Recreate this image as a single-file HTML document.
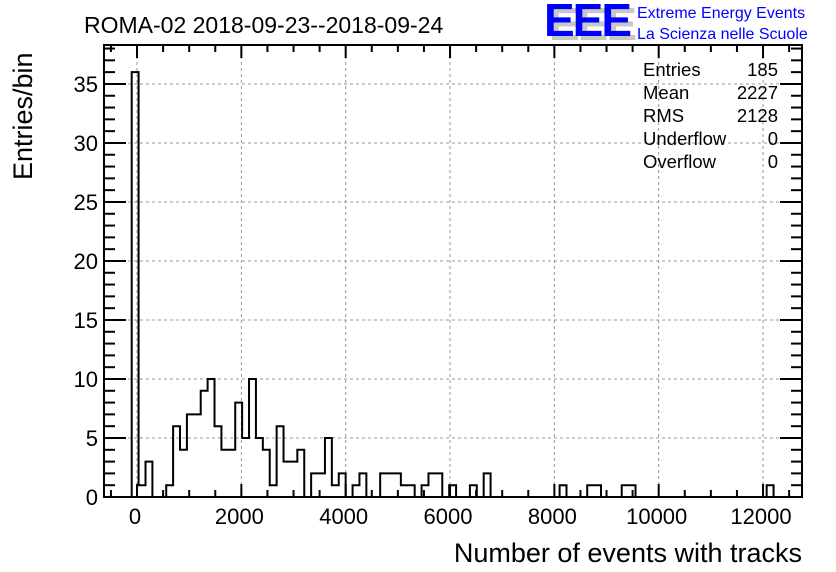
<!DOCTYPE html>
<html><head><meta charset="utf-8"><style>
body{margin:0;background:#fff;}
svg{display:block;font-family:"Liberation Sans",sans-serif;}
</style></head><body>
<svg id="chart" width="836" height="572" viewBox="0 0 836 572" xmlns="http://www.w3.org/2000/svg">
<rect x="0" y="0" width="836" height="572" fill="#fff"/>
<text x="84" y="33" font-size="23">ROMA-02 2018-09-23--2018-09-24</text>
<g>
<text x="549" y="40" font-size="46" font-weight="bold" fill="#c8c8c8" letter-spacing="-2">EEE</text>
<text x="544" y="36" font-size="46" font-weight="bold" fill="#0000ff" letter-spacing="-2">EEE</text>
<text x="637" y="18" font-size="16" fill="#0000ff">Extreme Energy Events</text>
<text x="637" y="39" font-size="16" fill="#0000ff">La Scienza nelle Scuole</text>
</g>
<g id="grid"></g>
<g id="bars"></g>
<g id="axes"></g>
<g font-size="18.5">
<text x="643" y="76">Entries</text><text x="778" y="76" text-anchor="end">185</text>
<text x="643" y="99">Mean</text><text x="778" y="99" text-anchor="end">2227</text>
<text x="643" y="122">RMS</text><text x="778" y="122" text-anchor="end">2128</text>
<text x="643" y="145">Underflow</text><text x="778" y="145" text-anchor="end">0</text>
<text x="643" y="168">Overflow</text><text x="778" y="168" text-anchor="end">0</text>
</g>
<text transform="translate(32,180) rotate(-90)" font-size="27">Entries/bin</text>
<text x="802" y="562" font-size="27" text-anchor="end">Number of events with tracks</text>
</svg>
<script>
const binStart = -102;
const binWidth = 132.3;
const counts = [36,1,3,0,0,1,6,4,7,7,9,10,6,4,4,8,5,10,5,4,1,6,3,3,4,0,2,2,5,1,
2,0,1,2,0,0,2,2,2,1,1,0,1,2,2,0,1,0,0,1,0,2,0,0,0,0,0,0,0,0,0,0,1,0,0,0,1,1,0,0,0,1,1,
0,0,0,0,0,0,0,0,0,0,0,0,0,0,0,0,0,0,0,1,0];
const xTicks = [0,2000,4000,6000,8000,10000,12000];
const yTicks = [0,5,10,15,20,25,30,35];
const X0=104,X1=802,Y0=497,Y1=45;
const xMin=-633,xMax=12747,yMin=0,yMax=38.3;
const sx=v=>X0+(v-xMin)/(xMax-xMin)*(X1-X0);
const sy=v=>Y0-(v-yMin)/(yMax-yMin)*(Y0-Y1);
const NS="http://www.w3.org/2000/svg";
function mk(tag,attrs,parent){const e=document.createElementNS(NS,tag);for(const k in attrs)e.setAttribute(k,attrs[k]);parent.appendChild(e);return e;}
const grid=document.getElementById('grid'),bars=document.getElementById('bars'),axes=document.getElementById('axes');
xTicks.forEach(t=>{const l=mk('line',{x1:sx(t),x2:sx(t),y1:Y0,y2:Y1,stroke:'#999','stroke-dasharray':'3,3','stroke-width':1},grid);

});
yTicks.forEach(t=>{if(t===0)return;const l=mk('line',{x1:X0,x2:X1,y1:sy(t),y2:sy(t),stroke:'#999','stroke-dasharray':'3,3','stroke-width':1},grid);

});
let d='M'+sx(binStart)+','+sy(0);
counts.forEach((c,i)=>{const a=sx(binStart+i*binWidth),b=sx(binStart+(i+1)*binWidth);d+=' L'+a+','+sy(c)+' L'+b+','+sy(c);});
d+=' L'+sx(binStart+counts.length*binWidth)+','+sy(0);
const p=mk('path',{d:d,fill:'none',stroke:'#000','stroke-width':2},bars);


const fr=mk('rect',{x:X0,y:Y1,width:X1-X0,height:Y0-Y1,fill:'none',stroke:'#000','stroke-width':2},axes);


for(let v=-500;v<=xMax;v+=500){if(v<xMin)continue;const major=v%2000===0;const L=major?13:7;
mk('line',{x1:sx(v),x2:sx(v),y1:Y0,y2:Y0-L,stroke:'#000','stroke-width':2},axes);
mk('line',{x1:sx(v),x2:sx(v),y1:Y1,y2:Y1+L,stroke:'#000','stroke-width':2},axes);}
for(let v=0;v<=38;v++){const major=v%5===0;const L=major?22:11;
mk('line',{x1:X0,x2:X0+L,y1:sy(v),y2:sy(v),stroke:'#000','stroke-width':2},axes);
mk('line',{x1:X1,x2:X1-L,y1:sy(v),y2:sy(v),stroke:'#000','stroke-width':2},axes);}
xTicks.forEach(t=>{const tx=mk('text',{x:sx(t)-2,y:524,'font-size':22,'text-anchor':'middle'},axes);tx.textContent=t;

});
yTicks.forEach(t=>{const tx=mk('text',{x:98,y:sy(t)+8,'font-size':22,'text-anchor':'end'},axes);tx.textContent=t;

});
</script>
</body></html>
